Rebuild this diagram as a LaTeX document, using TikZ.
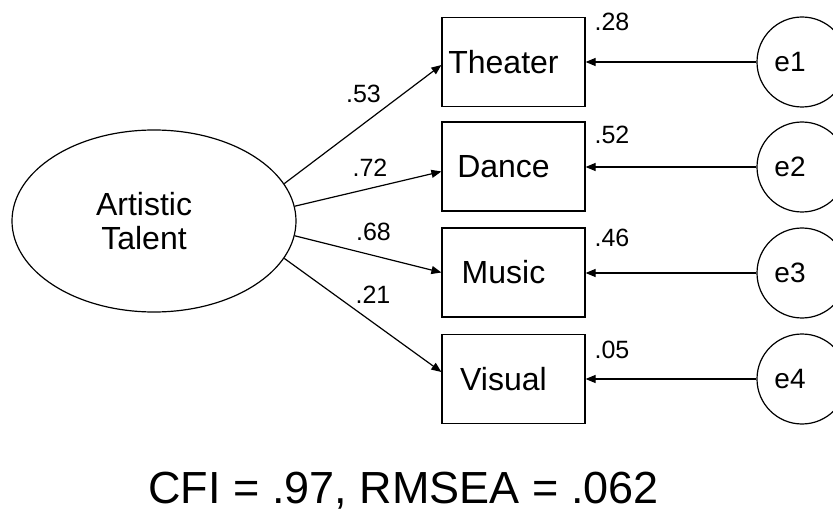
\documentclass[tikz,border=0pt]{standalone}
\usepackage{fontspec}
\setmainfont{Liberation Sans}
\usetikzlibrary{shapes.geometric,arrows.meta}
\begin{document}
\begin{tikzpicture}[x=1pt,y=-1pt,
  line width=1.2pt,
  obsbox/.style={draw,rectangle,minimum width=143pt,minimum height=89pt,inner sep=0pt,font=\fontsize{32}{36}\selectfont},
  latent/.style={draw,ellipse,minimum width=284pt,minimum height=182pt,inner sep=0pt,align=center,font=\fontsize{32}{34}\selectfont},
  errc/.style={draw,circle,minimum size=90pt,inner sep=0pt,font=\fontsize{28}{32}\selectfont},
  coef/.style={inner sep=0pt,font=\fontsize{25}{28}\selectfont},
  path/.style={-{Triangle[length=10pt,width=8pt]}},
]
\useasboundingbox (0,0) rectangle (833,513);
\begin{scope}
\clip (0,0) rectangle (833,513);
\node[latent] (AT) at (154,221) {Artistic\kern20pt\\Talent\kern20pt};
\node[obsbox] (T) at (513.5,62) {Theater\kern20pt};
\node[obsbox] (D) at (513.5,166.5) {Dance\kern20pt};
\node[obsbox] (M) at (513.5,272.5) {Music\kern20pt};
\node[obsbox] (V) at (513.5,379) {Visual\kern20pt};
\node[errc] (E1) at (802,62) {e1\kern24pt};
\node[errc] (E2) at (802,167) {e2\kern24pt};
\node[errc] (E3) at (802,273) {e3\kern24pt};
\node[errc] (E4) at (802,379) {e4\kern24pt};
\end{scope}
\draw[path] (AT.16) -- ([yshift=-3pt]T.west);
\draw[path] (AT.6) -- ([yshift=-5pt]D.west);
\draw[path] (AT.-6) -- (M.west);
\draw[path] (AT.-16) -- ([yshift=7pt]V.west);
\draw[path] (E1.west) -- (E1.west -| T.east);
\draw[path] (E2.west) -- (E2.west -| D.east);
\draw[path] (E3.west) -- (E3.west -| M.east);
\draw[path] (E4.west) -- (E4.west -| V.east);
\node[coef] (l1) at (363.5,93.5) {.53};
\node[coef] (l2) at (370,167.5) {.72};
\node[coef] (l3) at (373.5,232) {.68};
\node[coef] (l4) at (373,295) {.21};
\node[coef] (r1) at (612,21.5) {.28};
\node[coef] (r2) at (612,134.5) {.52};
\node[coef] (r3) at (612,237.5) {.46};
\node[coef] (r4) at (612,349.5) {.05};
\node[inner sep=0pt,anchor=base,font=\fontsize{45}{50}\selectfont] (fit) at (403.5,503) {CFI = .97, RMSEA = .062};
\end{tikzpicture}
\end{document}
